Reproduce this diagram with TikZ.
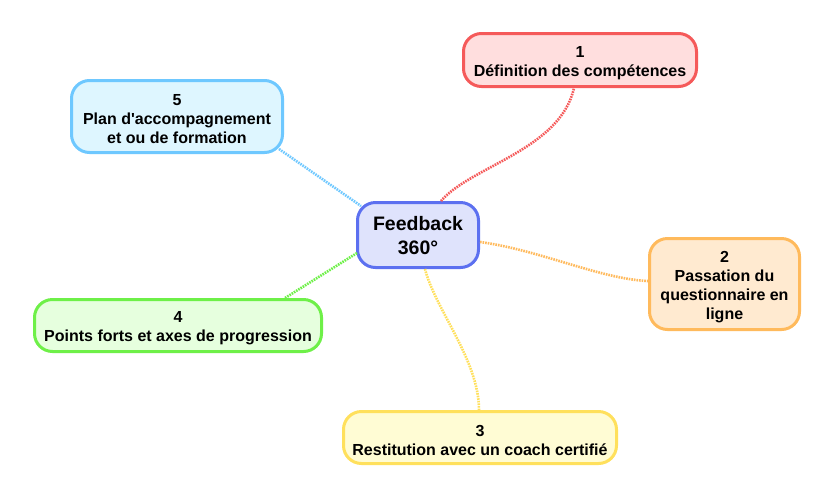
\documentclass[tikz,border=0pt]{standalone}
\usepackage{fontspec}
\newfontfamily\arialfont{Liberation Sans}
\newcommand\mytopstrut{\rule{0pt}{17pt}}
\definecolor{cfill}{RGB}{223,227,252}
\definecolor{cdraw}{RGB}{92,112,240}
\definecolor{rfill}{RGB}{255,222,222}
\definecolor{rdraw}{RGB}{245,90,90}
\definecolor{ofill}{RGB}{255,234,208}
\definecolor{odraw}{RGB}{255,186,92}
\definecolor{yfill}{RGB}{255,252,212}
\definecolor{ydraw}{RGB}{255,224,92}
\definecolor{gfill}{RGB}{230,255,222}
\definecolor{gdraw}{RGB}{110,240,72}
\definecolor{bfill}{RGB}{222,246,255}
\definecolor{bdraw}{RGB}{110,200,255}
\tikzset{
  box/.style={rounded corners=18pt, line width=3pt, align=center, inner sep=0pt,
    font=\arialfont\bfseries\fontsize{16}{19}\selectfont, text=black},
  hub/.style={box, font=\arialfont\bfseries\fontsize{19.5}{24}\selectfont},
  con/.style={line width=2.6pt, dash pattern=on 1.6pt off 1pt}
}
\begin{document}
\begin{tikzpicture}[x=1pt,y=-1pt]
\useasboundingbox[fill=white] (0,0) rectangle (833,499);
\node[hub, draw=cdraw, fill=cfill, minimum width=121pt, minimum height=65pt] (c) at (418,235) {\rule{0pt}{16pt}Feedback\\360°};
\node[box, draw=rdraw, fill=rfill, minimum width=233pt, minimum height=53pt] (n1) at (580,60) {\mytopstrut 1\\Définition des compétences};
\node[box, draw=odraw, fill=ofill, minimum width=150pt, minimum height=91pt] (n2) at (724.5,284) {\mytopstrut 2\\Passation du\\questionnaire en\\ligne};
\node[box, draw=ydraw, fill=yfill, minimum width=273pt, minimum height=52pt] (n3) at (480,437.5) {\mytopstrut 3\\Restitution avec un coach certifié};
\node[box, draw=gdraw, fill=gfill, minimum width=287pt, minimum height=52pt] (n4) at (178,325.5) {\mytopstrut 4\\Points forts et axes de progression};
\node[box, draw=bdraw, fill=bfill, minimum width=211pt, minimum height=72pt] (n5) at (177,116.5) {\mytopstrut 5\\Plan d'accompagnement\\et ou de formation};
\draw[con, rdraw] ([xshift=23pt]c.north) .. controls +(30,-35) and +(-14,62) .. ([xshift=-6pt]n1.south);
\draw[con, odraw] ([yshift=-7pt]c.east) .. controls +(60,8) and +(-48,-2) .. ([yshift=3pt]n2.west);
\draw[con, ydraw] ([xshift=7pt]c.south) .. controls +(10,40) and +(0,-50) .. ([xshift=-1pt]n3.north);
\draw[con, gdraw] ([xshift=1pt,yshift=-18pt]c.west) -- ([xshift=107pt]n4.north);
\draw[con, bdraw] ([xshift=-5pt,yshift=5pt]n5.south east) -- ([xshift=5pt,yshift=-5pt]c.north west);
\end{tikzpicture}
\end{document}
